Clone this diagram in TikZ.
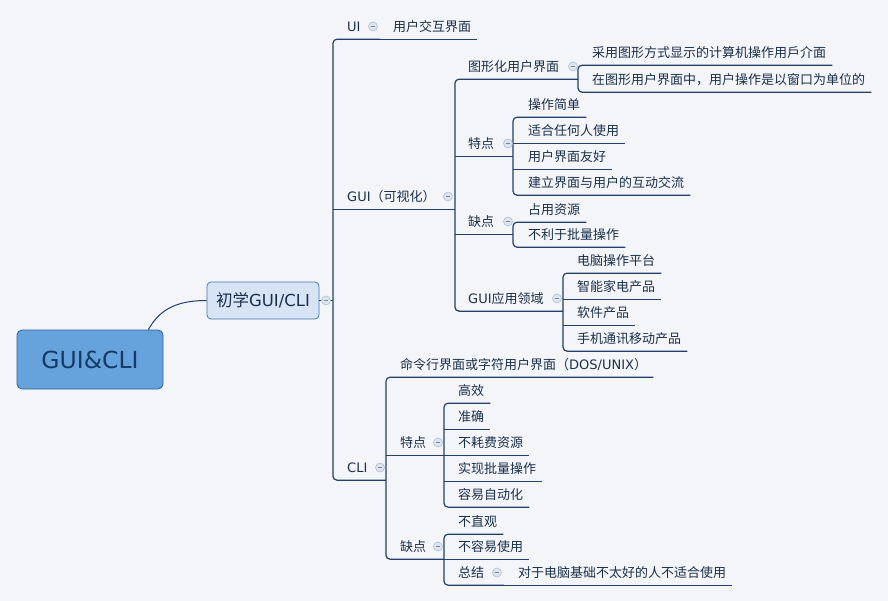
\documentclass[tikz,border=0pt]{standalone}
\usepackage{fontspec}
\setmainfont{Noto Sans CJK SC}
\newfontfamily\dv{DejaVu Sans}
\usetikzlibrary{calc}
\definecolor{bg}{HTML}{F3F5F9}
\definecolor{txt}{HTML}{1B2F4B}
\definecolor{ln}{HTML}{22406A}
\definecolor{rootfill}{HTML}{66A3DC}
\definecolor{rootdraw}{HTML}{2F5F95}
\definecolor{roottext}{HTML}{143A66}
\definecolor{subfill}{HTML}{D6E4F6}
\definecolor{subdraw}{HTML}{4A78AE}
\definecolor{knobfill}{HTML}{DCE4EF}
\definecolor{knobdraw}{HTML}{AFC0D6}
\begin{document}
\begin{tikzpicture}[x=1pt,y=-1pt,
  topic/.style={anchor=west,inner sep=0pt,minimum height=25pt,text=txt,font=\fontsize{13}{15}\selectfont},
  conn/.style={draw=ln,line width=1.2pt},
  knob/.style={circle,minimum size=9pt,inner sep=0pt,fill=knobfill,draw=knobdraw,line width=0.6pt,
    path picture={\draw[knobdraw!70!black,line width=0.8pt] ([xshift=-2.3pt]path picture bounding box.center) -- ([xshift=2.3pt]path picture bounding box.center);}},
  rootbox/.style={draw=rootdraw,fill=rootfill,rounded corners=5pt,line width=0.8pt,text=roottext,
    minimum width=146pt,minimum height=59pt,inner sep=0pt,font=\dv\fontsize{23.5}{27}\selectfont},
  subbox/.style={draw=subdraw,fill=subfill,rounded corners=4pt,line width=0.8pt,text=txt,
    minimum width=112pt,minimum height=37pt,inner sep=0pt,font=\fontsize{16.5}{19}\selectfont},
  rc/.style={rounded corners=4pt}
]
\fill[bg] (0,0) rectangle (888,601);
\useasboundingbox (0,0) rectangle (888,601);

% bracket x positions
\coordinate (b0) at (333,0);
\coordinate (bUI) at (380,0);
\coordinate (bG) at (455,0);
\coordinate (bG1) at (578,0);
\coordinate (bGF) at (513,0);
\coordinate (bGD) at (513,0);
\coordinate (bGA) at (563,0);
\coordinate (bC) at (386,0);
\coordinate (bCF) at (444,0);
\coordinate (bCD) at (444,0);
\coordinate (bZ) at (504,0);

% central nodes
\node[rootbox] (root) at (90,359.5) {GUI\&CLI};
\node[subbox] (sub) at (263,300.5) {初学{\dv GUI/CLI}};

% topics
\node[topic] (UI) at (347,26.5) {{\dv UI}};
\node[topic] (uiT) at (393,26.5) {用户交互界面};
\node[topic] (gui) at (347,196.5) {{\dv GUI}（可视化）};
\node[topic] (gT1) at (468,66.5) {图形化用户界面};
\node[topic] (g11) at (592,52.5) {采用图形方式显示的计算机操作用戶介面};
\node[topic] (g12) at (592,79.5) {在图形用户界面中，用户操作是以窗口为单位的};
\node[topic] (gF) at (468,143.5) {特点};
\node[topic] (gf1) at (528,104.5) {操作简单};
\node[topic] (gf2) at (528,130.5) {适合任何人使用};
\node[topic] (gf3) at (528,156.5) {用户界面友好};
\node[topic] (gf4) at (528,182.5) {建立界面与用户的互动交流};
\node[topic] (gD) at (468,221.5) {缺点};
\node[topic] (gd1) at (528,209.5) {占用资源};
\node[topic] (gd2) at (528,234.5) {不利于批量操作};
\node[topic] (gA) at (468,298.5) {{\dv GUI}应用领域};
\node[topic] (ga1) at (577,260.5) {电脑操作平台};
\node[topic] (ga2) at (577,286.5) {智能家电产品};
\node[topic] (ga3) at (577,312.5) {软件产品};
\node[topic] (ga4) at (577,338.5) {手机通讯移动产品};
\node[topic] (cli) at (347,467.5) {{\dv CLI}};
\node[topic] (c1) at (400,364.5) {命令行界面或字符用户界面（{\dv DOS/UNIX}）};
\node[topic] (cF) at (400,442.5) {特点};
\node[topic] (cf1) at (458,390.5) {高效};
\node[topic] (cf2) at (458,416.5) {准确};
\node[topic] (cf3) at (458,442.5) {不耗费资源};
\node[topic] (cf4) at (458,468.5) {实现批量操作};
\node[topic] (cf5) at (458,494.5) {容易自动化};
\node[topic] (cD) at (400,546.5) {缺点};
\node[topic] (cd1) at (458,521.5) {不直观};
\node[topic] (cd2) at (458,546.5) {不容易使用};
\node[topic] (cd3) at (458,572.5) {总结};
\node[topic] (cd3a) at (518,572.5) {对于电脑基础不太好的人不适合使用};

% root to sub
\draw[draw=ln,line width=1pt] ([xshift=-15pt]root.north east) .. controls +(12,-22) and +(-27,0) .. (sub.west);

% main bracket
\draw[conn] (sub.east) -- (b0 |- sub.east);
\draw[conn,rc] (bUI |- UI.south) -- (b0 |- UI.south) -- (b0 |- cli.south) -- (bC |- cli.south);
\draw[conn] (b0 |- gui.south) -- (bG |- gui.south);
\draw[conn] (bUI |- uiT.south) -- ([xshift=6pt]uiT.south east);

% GUI bracket
\draw[conn,rc] (bG1 |- gT1.south) -- (bG |- gT1.south) -- (bG |- gA.south) -- (bGA |- gA.south);
\draw[conn] (bG |- gF.south) -- (bGF |- gF.south);
\draw[conn] (bG |- gD.south) -- (bGD |- gD.south);

\draw[conn,rc] ([xshift=6pt]g11.south east) -- (bG1 |- g11.south) -- (bG1 |- g12.south) -- ([xshift=6pt]g12.south east);

\draw[conn,rc] ([xshift=6pt]gf1.south east) -- (bGF |- gf1.south) -- (bGF |- gf4.south) -- ([xshift=6pt]gf4.south east);
\draw[conn] (bGF |- gf2.south) -- ([xshift=6pt]gf2.south east);
\draw[conn] (bGF |- gf3.south) -- ([xshift=6pt]gf3.south east);

\draw[conn,rc] ([xshift=6pt]gd1.south east) -- (bGD |- gd1.south) -- (bGD |- gd2.south) -- ([xshift=6pt]gd2.south east);

\draw[conn,rc] ([xshift=6pt]ga1.south east) -- (bGA |- ga1.south) -- (bGA |- ga4.south) -- ([xshift=6pt]ga4.south east);
\draw[conn] (bGA |- ga2.south) -- ([xshift=6pt]ga2.south east);
\draw[conn] (bGA |- ga3.south) -- ([xshift=6pt]ga3.south east);

% CLI bracket
\draw[conn,rc] ([xshift=6pt]c1.south east) -- (bC |- c1.south) -- (bC |- cD.south) -- (bCD |- cD.south);
\draw[conn] (bC |- cF.south) -- (bCF |- cF.south);

\draw[conn,rc] ([xshift=6pt]cf1.south east) -- (bCF |- cf1.south) -- (bCF |- cf5.south) -- ([xshift=6pt]cf5.south east);
\draw[conn] (bCF |- cf2.south) -- ([xshift=6pt]cf2.south east);
\draw[conn] (bCF |- cf3.south) -- ([xshift=6pt]cf3.south east);
\draw[conn] (bCF |- cf4.south) -- ([xshift=6pt]cf4.south east);

\draw[conn,rc] ([xshift=6pt]cd1.south east) -- (bCD |- cd1.south) -- (bCD |- cd3.south) -- (bZ |- cd3.south);
\draw[conn] (bCD |- cd2.south) -- ([xshift=6pt]cd2.south east);
\draw[conn] (bZ |- cd3a.south) -- ([xshift=6pt]cd3a.south east);

% collapse knobs
\node[knob] (k0) at ($(b0 |- sub.east)+(-7,0)$) {};
\node[knob] (kUI) at ($(bUI |- UI.center)+(-7,0)$) {};
\node[knob] (kG) at ($(bG |- gui.center)+(-7,0)$) {};
\node[knob] (kG1) at ($(bG1 |- gT1.center)+(-5,0)$) {};
\node[knob] (kGF) at ($(bGF |- gF.center)+(-5,0)$) {};
\node[knob] (kGD) at ($(bGD |- gD.center)+(-5,0)$) {};
\node[knob] (kGA) at ($(bGA |- gA.center)+(-6,0)$) {};
\node[knob] (kC) at ($(bC |- cli.center)+(-6,0)$) {};
\node[knob] (kCF) at ($(bCF |- cF.center)+(-6,0)$) {};
\node[knob] (kCD) at ($(bCD |- cD.center)+(-6,0)$) {};
\node[knob] (kZ) at ($(bZ |- cd3.center)+(-7,0)$) {};
\end{tikzpicture}
\end{document}
